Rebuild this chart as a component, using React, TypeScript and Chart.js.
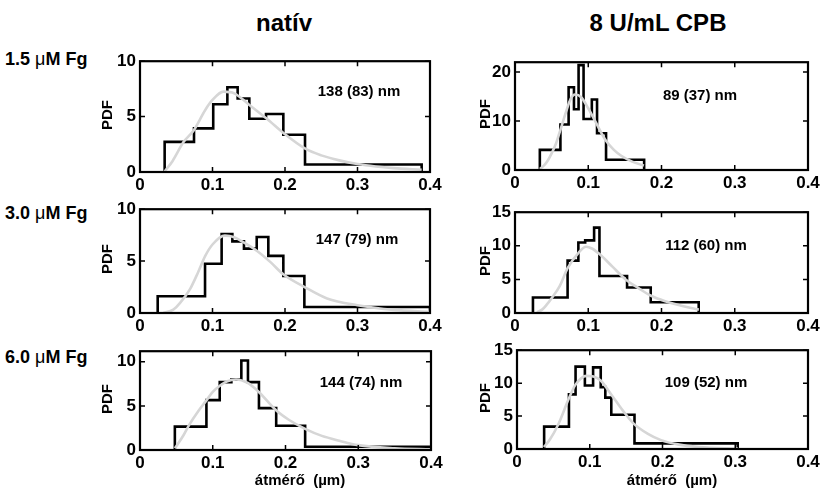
import React, { useEffect, useRef } from "react";
import { Chart, registerables } from "chart.js";

Chart.register(...registerables);

// ---------- data ----------
const columnTitles = ["natív", "8 U/mL CPB"];
const rowLabels = ["1.5", "3.0", "6.0"];
const xAxisTitle = "átmérő  (µm)";
const yAxisTitle = "PDF";

// 1.5 µM Fg, natív
const nat15Edges = [0.034, 0.0745, 0.101, 0.1205, 0.1347, 0.1508, 0.1738, 0.1977, 0.2276, 0.3885];
const nat15Pdf = [2.72, 3.94, 6.11, 7.65, 6.63, 4.81, 5.24, 3.36, 0.68];
const nat15FitX = [0.034, 0.045, 0.06, 0.0745, 0.09, 0.1, 0.115, 0.13, 0.15, 0.175, 0.2, 0.228, 0.25, 0.275, 0.3, 0.325, 0.35, 0.3885];
const nat15FitY = [0.05, 1.0, 2.7, 3.8, 5.6, 6.5, 7.25, 7.1, 6.1, 4.8, 3.4, 2.1, 1.5, 1.05, 0.72, 0.5, 0.35, 0.2];
const nat15Label = "138 (83) nm";

// 1.5 µM Fg, 8 U/mL CPB
const cpb15Edges = [0.0339, 0.062, 0.0732, 0.0805, 0.0868, 0.0936, 0.1049, 0.112, 0.1243, 0.1763];
const cpb15Pdf = [4.1, 9.3, 16.9, 12.4, 21.4, 10.4, 14.4, 7.5, 2.1];
const cpb15FitX = [0.034, 0.04, 0.045, 0.05, 0.056, 0.062, 0.07, 0.076, 0.082, 0.09, 0.1, 0.11, 0.124, 0.135, 0.145, 0.16, 0.176];
const cpb15FitY = [0.2, 1.0, 2.0, 3.4, 5.4, 8.2, 12.0, 14.5, 15.4, 14.9, 12.6, 9.8, 6.0, 4.1, 2.9, 1.7, 0.9];
const cpb15Label = "89 (37) nm";

// 3.0 µM Fg, natív
const nat30Edges = [0.0244, 0.0897, 0.1126, 0.1274, 0.1434, 0.161, 0.177, 0.1977, 0.2267, 0.4];
const nat30Pdf = [1.62, 4.75, 7.6, 6.9, 6.2, 7.32, 5.5, 3.57, 0.58];
const nat30FitX = [0.032, 0.046, 0.055, 0.069, 0.08, 0.09, 0.1, 0.117, 0.13, 0.143, 0.161, 0.18, 0.198, 0.227, 0.258, 0.3, 0.35, 0.4];
const nat30FitY = [0.0, 0.33, 0.95, 2.3, 3.9, 5.5, 6.6, 7.45, 7.3, 6.8, 6.0, 4.9, 3.7, 2.5, 1.4, 0.75, 0.3, 0.1];
const nat30Label = "147 (79) nm";

// 3.0 µM Fg, 8 U/mL CPB
const cpb30Edges = [0.0245, 0.0718, 0.0865, 0.0958, 0.108, 0.1153, 0.153, 0.1853, 0.2508];
const cpb30Pdf = [2.3, 7.8, 10.5, 10.8, 12.7, 5.5, 3.8, 1.6];
const cpb30FitX = [0.03, 0.037, 0.043, 0.05, 0.061, 0.072, 0.087, 0.097, 0.105, 0.115, 0.133, 0.151, 0.17, 0.185, 0.205, 0.23, 0.251];
const cpb30FitY = [0.1, 0.5, 1.2, 2.2, 4.0, 6.7, 9.0, 9.85, 9.6, 8.8, 6.9, 5.0, 3.6, 2.6, 1.75, 1.0, 0.5];
const cpb30Label = "112 (60) nm";

// 6.0 µM Fg, natív
const nat60Edges = [0.0479, 0.0913, 0.1096, 0.1256, 0.1393, 0.1484, 0.1635, 0.1872, 0.227, 0.4];
const nat60Pdf = [2.65, 5.65, 7.7, 8.0, 10.15, 7.7, 4.75, 2.75, 0.36];
const nat60FitX = [0.048, 0.06, 0.068, 0.08, 0.091, 0.1, 0.11, 0.12, 0.132, 0.148, 0.163, 0.187, 0.205, 0.227, 0.25, 0.274, 0.3, 0.35, 0.4];
const nat60FitY = [0.2, 1.7, 2.9, 4.4, 5.6, 6.6, 7.3, 7.8, 8.0, 7.6, 6.6, 4.5, 3.4, 2.4, 1.6, 1.05, 0.55, 0.2, 0.08];
const nat60Label = "144 (74) nm";

// 6.0 µM Fg, 8 U/mL CPB
const cpb60Edges = [0.0373, 0.0714, 0.0805, 0.0933, 0.1046, 0.1151, 0.1214, 0.1296, 0.1615, 0.3034];
const cpb60Pdf = [3.4, 8.3, 12.5, 9.65, 12.4, 9.4, 7.8, 5.2, 0.85];
const cpb60FitX = [0.037, 0.045, 0.057, 0.0714, 0.08, 0.0955, 0.105, 0.115, 0.13, 0.145, 0.16, 0.18, 0.198, 0.221, 0.25, 0.3034];
const cpb60FitY = [0.3, 1.4, 3.8, 7.7, 9.7, 11.1, 11.0, 10.4, 8.2, 5.9, 3.9, 2.3, 1.35, 0.7, 0.3, 0.05];
const cpb60Label = "109 (52) nm";

const xMin = 0;
const xMax = 0.4;
const xStep = 0.1;

// ---------- layout / style ----------
const FONT = "'Liberation Sans', Arial, Helvetica, sans-serif";
const Y_AXIS_W = 44;
const PAD_T = 10;
const PAD_R = 16;
const X_AXIS_H = 28;

type Box = { l: number; t: number; r: number; b: number };

type PanelDef = {
  edges: number[];
  pdf: number[];
  fitX: number[];
  fitY: number[];
  yMax: number;
  yStep: number;
  label: string;
  box: Box;
  labelPos: [number, number];
};

const panels: PanelDef[] = [
  { edges: nat15Edges, pdf: nat15Pdf, fitX: nat15FitX, fitY: nat15FitY, yMax: 10, yStep: 5, label: nat15Label,
    box: { l: 140, t: 57, r: 430, b: 172 }, labelPos: [359, 90] },
  { edges: cpb15Edges, pdf: cpb15Pdf, fitX: cpb15FitX, fitY: cpb15FitY, yMax: 22, yStep: 10, label: cpb15Label,
    box: { l: 515, t: 58, r: 808, b: 170 }, labelPos: [700, 94] },
  { edges: nat30Edges, pdf: nat30Pdf, fitX: nat30FitX, fitY: nat30FitY, yMax: 10, yStep: 5, label: nat30Label,
    box: { l: 140, t: 205, r: 430, b: 313 }, labelPos: [357, 238] },
  { edges: cpb30Edges, pdf: cpb30Pdf, fitX: cpb30FitX, fitY: cpb30FitY, yMax: 15, yStep: 5, label: cpb30Label,
    box: { l: 515, t: 208, r: 808, b: 313 }, labelPos: [706, 244] },
  { edges: nat60Edges, pdf: nat60Pdf, fitX: nat60FitX, fitY: nat60FitY, yMax: 11.2, yStep: 5, label: nat60Label,
    box: { l: 140, t: 347, r: 431, b: 450 }, labelPos: [361, 381] },
  { edges: cpb60Edges, pdf: cpb60Pdf, fitX: cpb60FitX, fitY: cpb60FitY, yMax: 15, yStep: 5, label: cpb60Label,
    box: { l: 517, t: 346, r: 808, b: 449 }, labelPos: [706, 381] },
];

const framePlugin = {
  id: "matlabFrame",
  afterDatasetsDraw(chart: any) {
    const { ctx, chartArea: a, scales } = chart;
    const xs = scales.x;
    const ys = scales.y;
    const L = 5;
    ctx.save();
    ctx.strokeStyle = "#000";
    ctx.lineWidth = 1.5;
    ctx.beginPath();
    xs.ticks.forEach((t: any) => {
      const px = xs.getPixelForValue(t.value);
      ctx.moveTo(px, a.bottom);
      ctx.lineTo(px, a.bottom - L);
      ctx.moveTo(px, a.top);
      ctx.lineTo(px, a.top + L);
    });
    ys.ticks.forEach((t: any) => {
      const py = ys.getPixelForValue(t.value);
      ctx.moveTo(a.left, py);
      ctx.lineTo(a.left + L, py);
      ctx.moveTo(a.right, py);
      ctx.lineTo(a.right - L, py);
    });
    ctx.stroke();
    ctx.lineWidth = 2.2;
    ctx.strokeRect(a.left, a.top, a.right - a.left, a.bottom - a.top);
    ctx.restore();
  },
};

function Panel({ p }: { p: PanelDef }) {
  const ref = useRef<HTMLCanvasElement>(null);
  const W = p.box.r - p.box.l + Y_AXIS_W + PAD_R;
  const H = p.box.b - p.box.t + PAD_T + X_AXIS_H;

  useEffect(() => {
    if (!ref.current) return;
    const n = p.edges.length;
    const hist: { x: number; y: number }[] = [{ x: p.edges[0], y: 0 }];
    for (let i = 0; i < n - 1; i++) hist.push({ x: p.edges[i], y: p.pdf[i] });
    hist.push({ x: p.edges[n - 1], y: p.pdf[p.pdf.length - 1] });
    hist.push({ x: p.edges[n - 1], y: 0 });
    const fit = p.fitX.map((x, i) => ({ x, y: p.fitY[i] }));

    const tickFont = { family: FONT, size: 17, weight: "bold" as const };

    const chart = new Chart(ref.current, {
      type: "line",
      data: {
        datasets: [
          {
            data: fit,
            borderColor: "#d6d6d6",
            borderWidth: 2.6,
            cubicInterpolationMode: "monotone",
            pointRadius: 0,
            fill: false,
          },
          {
            data: hist,
            borderColor: "#000",
            borderWidth: 2.6,
            stepped: "before",
            pointRadius: 0,
            fill: false,
            borderJoinStyle: "miter",
          },
        ],
      } as any,
      options: {
        animation: false,
        responsive: false,
        maintainAspectRatio: false,
        events: [],
        parsing: false,
        layout: { padding: { top: PAD_T, right: PAD_R, left: 0, bottom: 0 } },
        plugins: { legend: { display: false }, tooltip: { enabled: false }, title: { display: false } },
        scales: {
          x: {
            type: "linear",
            min: xMin,
            max: xMax,
            afterFit: (s: any) => {
              s.height = X_AXIS_H;
            },
            grid: { display: false, drawTicks: false },
            border: { display: false },
            ticks: {
              stepSize: xStep,
              includeBounds: false,
              padding: 3,
              color: "#000",
              font: tickFont,
              maxRotation: 0,
              autoSkip: false,
              callback: (v: any) => (Number(v) === 0 ? "0" : Number(v).toFixed(1)),
            },
          },
          y: {
            type: "linear",
            min: 0,
            max: p.yMax,
            afterFit: (s: any) => {
              s.width = Y_AXIS_W;
            },
            grid: { display: false, drawTicks: false },
            border: { display: false },
            ticks: {
              stepSize: p.yStep,
              includeBounds: false,
              padding: 4,
              color: "#000",
              font: tickFont,
              autoSkip: false,
            },
          },
        },
      } as any,
      plugins: [framePlugin],
    });
    return () => chart.destroy();
  }, []);

  return (
    <canvas
      ref={ref}
      width={W}
      height={H}
      style={{
        position: "absolute",
        left: p.box.l - Y_AXIS_W,
        top: p.box.t - PAD_T,
        width: W,
        height: H,
      }}
    />
  );
}

const textStyle = (x: number, y: number, size: number, extra: React.CSSProperties = {}): React.CSSProperties => ({
  position: "absolute",
  left: x,
  top: y,
  transform: "translate(-50%, -50%)",
  fontFamily: FONT,
  fontWeight: "bold",
  fontSize: size,
  color: "#000",
  whiteSpace: "pre",
  lineHeight: 1,
  ...extra,
});

export default function App() {
  const rowY = [59, 213, 357];
  const colTitleX = [284, 658];
  const pdfX = [106, 484];
  const xTitleX = [300, 672];
  return (
    <div
      style={{
        position: "fixed",
        left: 0,
        top: 0,
        width: 822,
        height: 488,
        background: "#fff",
        overflow: "hidden",
      }}
    >
      {columnTitles.map((t, i) => (
        <div key={"ct" + i} style={textStyle(colTitleX[i], 23, 24)}>
          {t}
        </div>
      ))}
      {rowLabels.map((r, i) => (
        <div
          key={"rl" + i}
          style={{
            position: "absolute",
            left: 5,
            top: rowY[i],
            transform: "translateY(-50%)",
            fontFamily: FONT,
            fontWeight: "bold",
            fontSize: 18,
            whiteSpace: "pre",
            lineHeight: 1,
            color: "#000",
          }}
        >
          {r + " "}
          <span style={{ fontWeight: "normal" }}>μ</span>
          {"M Fg"}
        </div>
      ))}
      {panels.map((p, i) => (
        <Panel key={"p" + i} p={p} />
      ))}
      {panels.map((p, i) => (
        <div
          key={"pdf" + i}
          style={textStyle(pdfX[i % 2], (p.box.t + p.box.b) / 2, 15, {
            transform: "translate(-50%, -50%) rotate(-90deg)",
          })}
        >
          {yAxisTitle}
        </div>
      ))}
      {panels.map((p, i) => (
        <div key={"lb" + i} style={textStyle(p.labelPos[0], p.labelPos[1], 15)}>
          {p.label}
        </div>
      ))}
      {[0, 1].map((i) => (
        <div key={"xt" + i} style={textStyle(xTitleX[i], 479, 15)}>
          {xAxisTitle}
        </div>
      ))}
    </div>
  );
}
